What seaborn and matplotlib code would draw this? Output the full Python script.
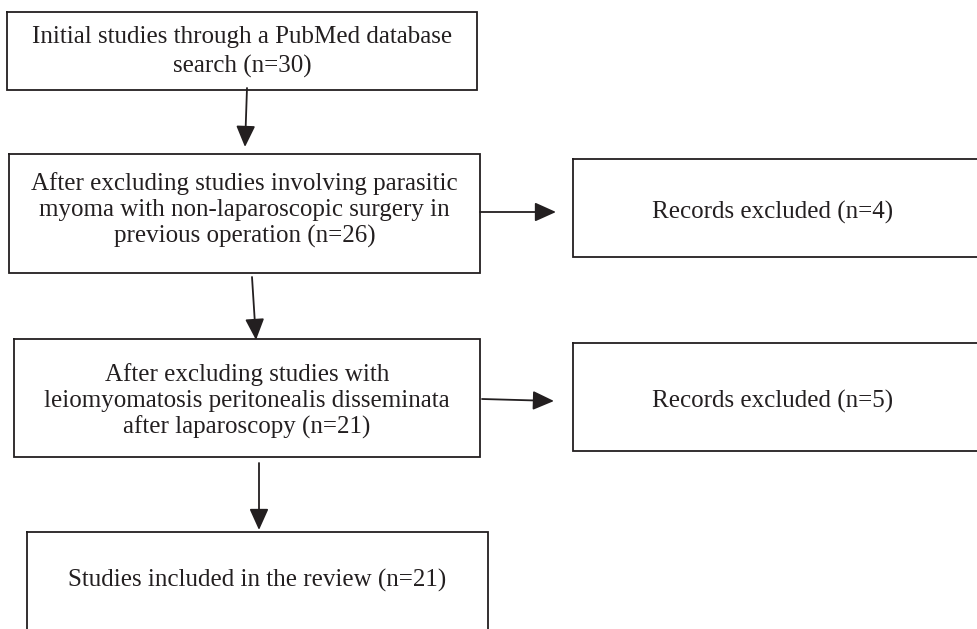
import matplotlib
matplotlib.use("Agg")
import matplotlib.pyplot as plt
import seaborn as sns

# ---- content ----
box_texts = [
    "Initial studies through a PubMed database\nsearch (n=30)",
    "After excluding studies involving parasitic\nmyoma with non-laparoscopic surgery in\nprevious operation (n=26)",
    "After excluding studies with\nleiomyomatosis peritonealis disseminata\nafter laparoscopy (n=21)",
    "Studies included in the review (n=21)",
]
excluded_texts = ["Records excluded (n=4)", "Records excluded (n=5)"]

sns.set_theme(style="white")
plt.rcParams['font.family'] = ['Liberation Serif', 'DejaVu Serif']

W, H = 977, 629
fig = plt.figure(figsize=(W / 100, H / 100), dpi=100)
ax = fig.add_axes([0, 0, 1, 1])
ax.set_xlim(0, W)
ax.set_ylim(H, 0)
ax.axis("off")

LC = "#231f20"
LW = 1.3
FS = 18

# layout (pixel space): left, top, right, bottom
main_boxes = [(7, 12, 477, 90), (9, 154, 480, 273), (14, 339, 480, 457), (27, 532, 488, 640)]
text_y = [52, 210, 401, 580]
line_sp = [1.35, 1.22, 1.22, 1.2]
side_boxes = [(573, 159, 990, 257), (573, 343, 990, 451)]

def draw_box(b):
    l, t, r, bt = b
    ax.plot([l, r, r, l, l], [t, t, bt, bt, t], color=LC, lw=LW, solid_joinstyle="miter")

for b, ty, ls, txt in zip(main_boxes, text_y, line_sp, box_texts):
    draw_box(b)
    ax.text((b[0] + b[2]) / 2, ty, txt, ha="center", va="center", fontsize=FS,
            color="#231f20", linespacing=ls)

for b, txt in zip(side_boxes, excluded_texts):
    draw_box(b)
    ax.text(773, (b[1] + b[3]) / 2 + 4, txt, ha="center", va="center", fontsize=FS, color="#231f20")

def arrow(x0, y0, x1, y1):
    ax.annotate("", xy=(x1, y1), xytext=(x0, y0),
                arrowprops=dict(arrowstyle="-|>,head_length=1.0,head_width=0.45",
                                color=LC, lw=LW, shrinkA=0, shrinkB=0, mutation_scale=13))

arrow(247, 88, 245, 147)
arrow(252, 277, 256, 340)
arrow(259, 463, 259, 530)
arrow(480, 212, 556, 212)
arrow(482, 399, 554, 401)

fig.savefig("out.png", dpi=100, facecolor="white")
